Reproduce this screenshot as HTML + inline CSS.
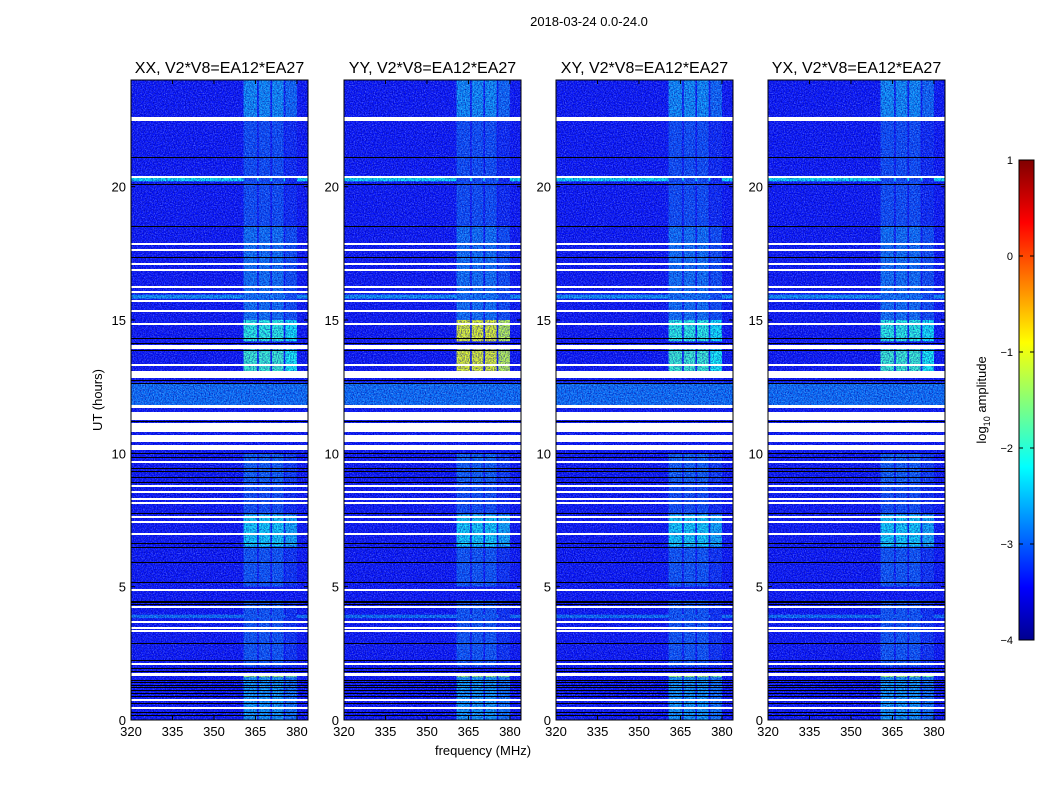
<!DOCTYPE html>
<html><head><meta charset="utf-8">
<style>
body{margin:0;background:#fff;width:1050px;height:800px;overflow:hidden;font-family:"Liberation Sans",sans-serif;}
svg text{font-family:"Liberation Sans",sans-serif;}
</style></head>
<body>
<svg id="fig" width="1050" height="800" xmlns="http://www.w3.org/2000/svg">
<defs>
<filter id="noise" x="0" y="0" width="100%" height="100%">
<feTurbulence type="fractalNoise" baseFrequency="0.9" numOctaves="1" seed="3"/>
<feColorMatrix type="matrix" values="0 0 0 0 0.6  0 0 0 0 0.8  0 0 0 0 1  0 0 0 -2.2 1.35"/>
</filter>
<filter id="noise2" x="0" y="0" width="100%" height="100%">
<feTurbulence type="fractalNoise" baseFrequency="0.75" numOctaves="1" seed="9"/>
<feColorMatrix type="matrix" values="0 0 0 0 0  0 0 0 0 0  0 0 0 0 0.35  0 0 0 -2.4 1.5"/>
</filter>
<linearGradient id="jet" x1="0" y1="1" x2="0" y2="0">
<stop offset="0" stop-color="#00008f"/><stop offset="0.11" stop-color="#0000ff"/>
<stop offset="0.36" stop-color="#00ffff"/><stop offset="0.62" stop-color="#ffff00"/>
<stop offset="0.87" stop-color="#ff0000"/><stop offset="1" stop-color="#800000"/>
</linearGradient>
</defs>
<text x="589" y="26" font-size="13" text-anchor="middle">2018-03-24 0.0-24.0</text>
<text x="483" y="755" font-size="13" text-anchor="middle">frequency (MHz)</text>
<text transform="translate(102,400) rotate(-90)" font-size="13" text-anchor="middle">UT (hours)</text>
<g id="panels"></g>
<g>
<rect x="1019" y="160" width="15" height="480" fill="url(#jet)" stroke="#000" stroke-width="1"/>
<g id="cbticks"></g>
<text transform="translate(986,400) rotate(-90)" font-size="13" text-anchor="middle">log<tspan font-size="9" dy="4">10</tspan><tspan dy="-4"> amplitude</tspan></text>
</g>
</svg>
<script>
// ---- data ----
const panelNames = ["XX","YY","XY","YX"];
const baselineLabel = "V2*V8=EA12*EA27";
const xTicks = [320,335,350,365,380];
const yTicks = [0,5,10,15,20];
const cbTicks = [1,0,-1,-2,-3,-4];
const signalBlocks = [[360.7,365.6],[366.2,370.4],[371,375.2],[375.8,380]]; // MHz
// time segments [start h, end h, log10 amplitude in signal band]
const signalSegments = [[22.5,24,-2.65],[18.5,22.5,-3.0],[15,18.5,-2.8],[14.2,15,-2.0],[12.9,13.9,-1.9],[8.9,10,-2.9],[7.7,8.9,-3.0],[6.5,7.7,-2.3],[5,6.5,-2.95],[2,4.5,-2.95],[1.6,1.76,-1.4],[0,1.6,-2.6]];
// YY is stronger at 12.9-15 h
const yyBoost = [[14.2,15,-1.0],[12.9,13.9,-1.0]];
const backgroundLevel = -3.3;
// full-width bands [start,end,log amp]
const wideBands = [[20.2,20.4,-2.2],[15.8,15.95,-2.6],[11.8,12.65,-2.8],[3.82,3.95,-2.8]];
const whiteGaps = [[22.48,22.52],[22.56,22.6],[20.35,20.39],[17.83,17.87],[17.61,17.65],[17.11,17.15],[16.88,16.92],[16.23,16.27],[16.04,16.08],[15.7,15.74],[15.35,15.39],[14.85,14.89],[13.9,14.06],[13.32,13.36],[13.04,13.08],[12.83,13.01],[11.68,11.8],[11.25,11.56],[10.8,11.14],[10.44,10.69],[10.12,10.31],[9.67,9.71],[8.79,8.83],[8.53,8.57],[8.3,8.34],[8.12,8.16],[7.61,7.65],[7.42,7.46],[6.98,7.02],[4.85,4.9],[4.23,4.27],[3.67,3.71],[3.44,3.48],[3.35,3.39],[2.08,2.12],[1.65,1.78],[0.73,0.77],[0.44,0.48]];
const blackLines = [21.12,20.1,18.53,17.36,14.31,14.15,13.87,12.75,12.64,11.21,10.01,9.86,9.45,9.34,9.1,8.93,7.76,6.64,6.49,5.94,5.19,4.35,4.42,4.48,2.89,2.25,1.95,1.84,1.5,1.42,1.33,1.22,1.12,1.02,0.9,0.62,0.3,0.19];

// ---- layout ----
const panelLeft = [131,344,556,768];
const PW=177, PT=80, PB=720;
const XMIN=320, XMAX=384, YMIN=0, YMAX=24;
const NS="http://www.w3.org/2000/svg";
function jet(v){ let t=(v+4)/5; t=Math.max(0,Math.min(1,t));
  const f=x=>Math.max(0,Math.min(1,x));
  const r=f(1.5-Math.abs(4*t-3)), g=f(1.5-Math.abs(4*t-2)), b=f(1.5-Math.abs(4*t-1));
  return `rgb(${Math.round(r*255)},${Math.round(g*255)},${Math.round(b*255)})`; }
function el(tag,attrs,parent){const e=document.createElementNS(NS,tag);for(const k in attrs)e.setAttribute(k,attrs[k]);parent.appendChild(e);return e;}
const root=document.getElementById('panels');
panelNames.forEach((nm,pi)=>{
  const L=panelLeft[pi];
  const xs=f=>L+(f-XMIN)/(XMAX-XMIN)*PW;
  const ys=h=>PB-(h-YMIN)/(YMAX-YMIN)*(PB-PT);
  const g=el('g',{},root);
  
  
  const cid='clip'+pi;
  const cp=el('clipPath',{id:cid},g); el('rect',{x:L,y:PT,width:PW,height:PB-PT},cp);
  const body=el('g',{'clip-path':`url(#${cid})`},g);
  el('rect',{x:L,y:PT,width:PW,height:PB-PT,fill:jet(backgroundLevel)},body);
  wideBands.forEach(b=>{const r=el('rect',{x:L,y:ys(b[1]),width:PW,height:ys(b[0])-ys(b[1]),fill:jet(b[2])},body);
    
    });
  signalSegments.forEach(s=>{
    let v=s[2];
    if(nm==="YY"){yyBoost.forEach(b=>{if(b[0]===s[0]&&b[1]===s[1])v=b[2];});}
    signalBlocks.forEach((fb,bi)=>{
      const vv = v - (bi===3?0.2:0);
      const r=el('rect',{x:xs(fb[0]),y:ys(s[1]),width:xs(fb[1])-xs(fb[0]),height:ys(s[0])-ys(s[1]),fill:jet(vv)},body);
      
      
    });
  });
  el('rect',{x:L,y:PT,width:PW,height:PB-PT,filter:'url(#noise)',opacity:0.45},body);
  el('rect',{x:L,y:PT,width:PW,height:PB-PT,filter:'url(#noise2)',opacity:0.7},body);
  whiteGaps.forEach(w=>{const r=el('rect',{x:L,y:Math.round(ys(w[1])),width:PW,height:Math.max(2,Math.round(ys(w[0])-ys(w[1]))),fill:'#fff'},body);
    
    });
  blackLines.forEach(h=>{const r=el('rect',{x:L,y:Math.round(ys(h)),width:PW,height:1,fill:'#000'},body);
    
    });
  el('rect',{x:L,y:PT,width:PW,height:PB-PT,fill:'none',stroke:'#000','stroke-width':1},g);
  const t=el('text',{x:L+PW/2,y:PT-7,'font-size':16,'text-anchor':'middle'},g);
  t.textContent=nm+", "+baselineLabel;
  
  
  xTicks.forEach(f=>{const x=xs(f);
    el('line',{x1:x,x2:x,y1:PB,y2:PB-4,stroke:'#000'},g);el('line',{x1:x,x2:x,y1:PT,y2:PT+4,stroke:'#000'},g);
    const tt=el('text',{x:x,y:PB+16,'font-size':13,'text-anchor':'middle'},g);tt.textContent=f;
    
    });
  yTicks.forEach(h=>{const y=ys(h);
    el('line',{x1:L,x2:L+4,y1:y,y2:y,stroke:'#000'},g);el('line',{x1:L+PW,x2:L+PW-4,y1:y,y2:y,stroke:'#000'},g);
    const tt=el('text',{x:L-5,y:y+5,'font-size':13,'text-anchor':'end'},g);tt.textContent=h;
    
    });
});
const cbg=document.getElementById('cbticks');
cbTicks.forEach(v=>{const y=640-(v+4)/5*480;
  el('line',{x1:1019,x2:1023,y1:y,y2:y,stroke:'#000'},cbg);el('line',{x1:1034,x2:1030,y1:y,y2:y,stroke:'#000'},cbg);
  const tt=el('text',{x:1013,y:y+4,'font-size':11,'text-anchor':'end'},cbg);tt.textContent=v<0?'\u2212'+(-v):v;
  
  });
</script>
</body></html>
